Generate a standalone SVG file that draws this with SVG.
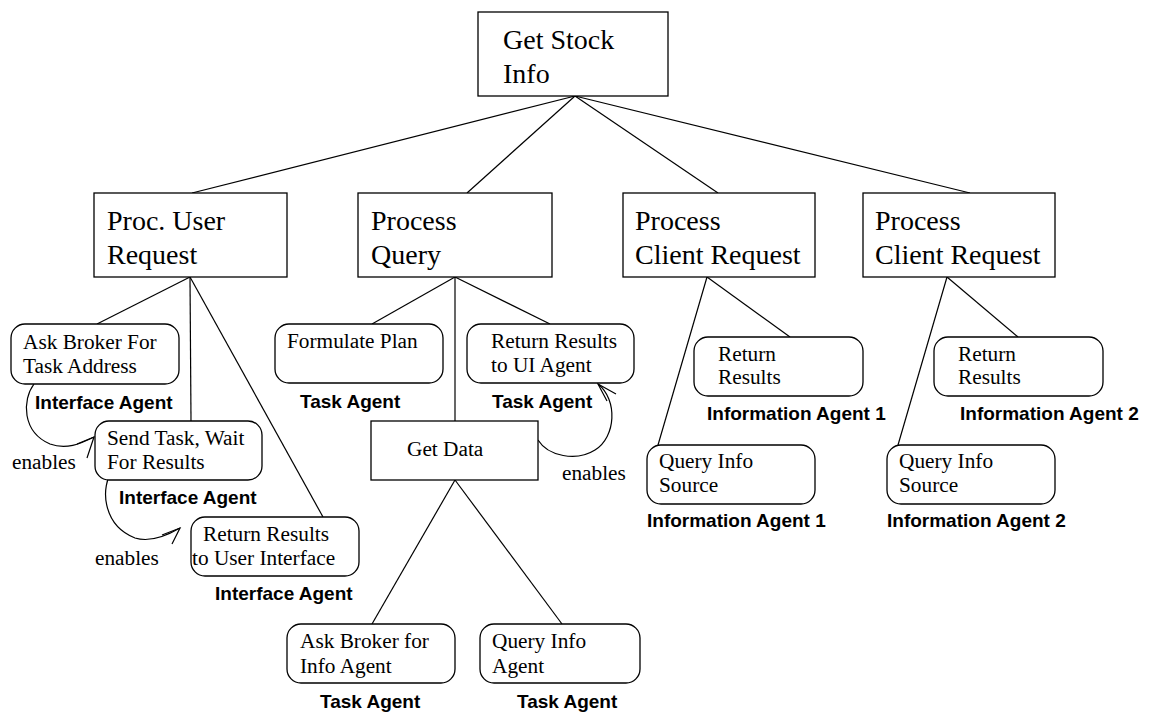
<svg xmlns="http://www.w3.org/2000/svg" width="1158" height="715" viewBox="0 0 1158 715">
<style>
.box{fill:#fff;stroke:#000;stroke-width:1.3}
.ln{fill:none;stroke:#000;stroke-width:1.2}
.t1{font-family:"Liberation Serif","Times New Roman",serif;font-size:28px;fill:#000}
.t2{font-family:"Liberation Serif","Times New Roman",serif;font-size:21.3px;fill:#000}
.ag{font-family:"Liberation Sans",Arial,sans-serif;font-size:19px;font-weight:bold;fill:#000}
</style>
<rect width="1158" height="715" fill="#fff"/>
<g id="connectors" class="ln">
<line x1="575" y1="96" x2="192" y2="193"/>
<line x1="575" y1="96" x2="467" y2="193"/>
<line x1="575" y1="96" x2="718" y2="193"/>
<line x1="575" y1="96" x2="970" y2="193"/>
<line x1="190" y1="277" x2="97" y2="324"/>
<line x1="190" y1="277" x2="191" y2="421"/>
<line x1="190" y1="277" x2="323" y2="517"/>
<line x1="455" y1="277" x2="372" y2="324"/>
<line x1="455" y1="277" x2="455" y2="421"/>
<line x1="455" y1="277" x2="550" y2="324"/>
<line x1="455" y1="480" x2="372" y2="624"/>
<line x1="455" y1="480" x2="562" y2="624"/>
<line x1="707" y1="277" x2="790" y2="337"/>
<line x1="707" y1="277" x2="658" y2="445"/>
<line x1="947" y1="277" x2="1018" y2="337"/>
<line x1="947" y1="277" x2="898" y2="445"/>
<path d="M34,384 C22,400 22,432 50,444 C66,450 80,444 94,437"/>
<path d="M87,458 L94,437 L77,444"/>
<path d="M113,470 C100,486 102,525 135,538 C151,543 168,535 180,528"/>
<path d="M172,544 L180,528 L162,535"/>
<path d="M538,440 C548,456 576,462 595,450 C616,437 618,400 598,384"/>
<path d="M616,394 L598,384 L607,401"/>
</g>
<g id="n-get-stock"><rect class="box" x="478" y="12" width="190" height="84"/><text class="t1" x="503" y="49">Get Stock</text><text class="t1" x="503" y="83">Info</text></g>
<g id="n-proc-user"><rect class="box" x="94" y="193" width="193" height="84"/><text class="t1" x="107" y="230">Proc. User</text><text class="t1" x="107" y="264">Request</text></g>
<g id="n-process-query"><rect class="box" x="358" y="193" width="194" height="84"/><text class="t1" x="371" y="230">Process</text><text class="t1" x="371" y="264">Query</text></g>
<g id="n-pcr1"><rect class="box" x="623" y="193" width="192" height="84"/><text class="t1" x="635" y="230">Process</text><text class="t1" x="635" y="264">Client Request</text></g>
<g id="n-pcr2"><rect class="box" x="863" y="193" width="192" height="84"/><text class="t1" x="875" y="230">Process</text><text class="t1" x="875" y="264">Client Request</text></g>
<g id="n-ask-broker-task"><rect class="box" x="11" y="324" width="168" height="60" rx="14"/><text class="t2" x="23" y="349">Ask Broker For</text><text class="t2" x="23" y="373">Task Address</text><text class="ag" x="35" y="409">Interface Agent</text></g>
<g id="n-send-task"><rect class="box" x="95" y="421" width="167" height="59" rx="14"/><text class="t2" x="107" y="445">Send Task, Wait</text><text class="t2" x="107" y="469">For Results</text><text class="ag" x="119" y="504">Interface Agent</text></g>
<g id="n-return-ui"><rect class="box" x="191" y="517" width="168" height="59" rx="14"/><text class="t2" x="203" y="541">Return Results</text><text class="t2" x="192" y="565">to User Interface</text><text class="ag" x="215" y="600">Interface Agent</text></g>
<g id="n-formulate"><rect class="box" x="275" y="324" width="168" height="59" rx="14"/><text class="t2" x="287" y="348">Formulate Plan</text><text class="ag" x="300" y="408">Task Agent</text></g>
<g id="n-return-uiagent"><rect class="box" x="467" y="324" width="167" height="59" rx="14"/><text class="t2" x="491" y="348">Return Results</text><text class="t2" x="491" y="372">to UI Agent</text><text class="ag" x="492" y="408">Task Agent</text></g>
<g id="n-get-data"><rect class="box" x="371" y="421" width="167" height="59"/><text class="t2" x="407" y="456">Get Data</text></g>
<g id="n-ask-broker-info"><rect class="box" x="287" y="624" width="168" height="59" rx="14"/><text class="t2" x="300" y="648">Ask Broker for</text><text class="t2" x="300" y="673">Info Agent</text><text class="ag" x="320" y="708">Task Agent</text></g>
<g id="n-query-info-agent"><rect class="box" x="480" y="624" width="160" height="59" rx="14"/><text class="t2" x="492" y="648">Query Info</text><text class="t2" x="492" y="673">Agent</text><text class="ag" x="517" y="708">Task Agent</text></g>
<g id="n-return-results-1"><rect class="box" x="694" y="337" width="169" height="59" rx="14"/><text class="t2" x="718" y="361">Return</text><text class="t2" x="718" y="384">Results</text><text class="ag" x="707" y="420">Information Agent 1</text></g>
<g id="n-query-source-1"><rect class="box" x="647" y="445" width="168" height="59" rx="14"/><text class="t2" x="659" y="468">Query Info</text><text class="t2" x="659" y="492">Source</text><text class="ag" x="647" y="527">Information Agent 1</text></g>
<g id="n-return-results-2"><rect class="box" x="934" y="337" width="169" height="59" rx="14"/><text class="t2" x="958" y="361">Return</text><text class="t2" x="958" y="384">Results</text><text class="ag" x="960" y="420">Information Agent 2</text></g>
<g id="n-query-source-2"><rect class="box" x="887" y="445" width="168" height="59" rx="14"/><text class="t2" x="899" y="468">Query Info</text><text class="t2" x="899" y="492">Source</text><text class="ag" x="887" y="527">Information Agent 2</text></g>
<g id="labels"><text class="t2" x="12" y="469">enables</text><text class="t2" x="95" y="565">enables</text><text class="t2" x="562" y="480">enables</text></g>
</svg>
